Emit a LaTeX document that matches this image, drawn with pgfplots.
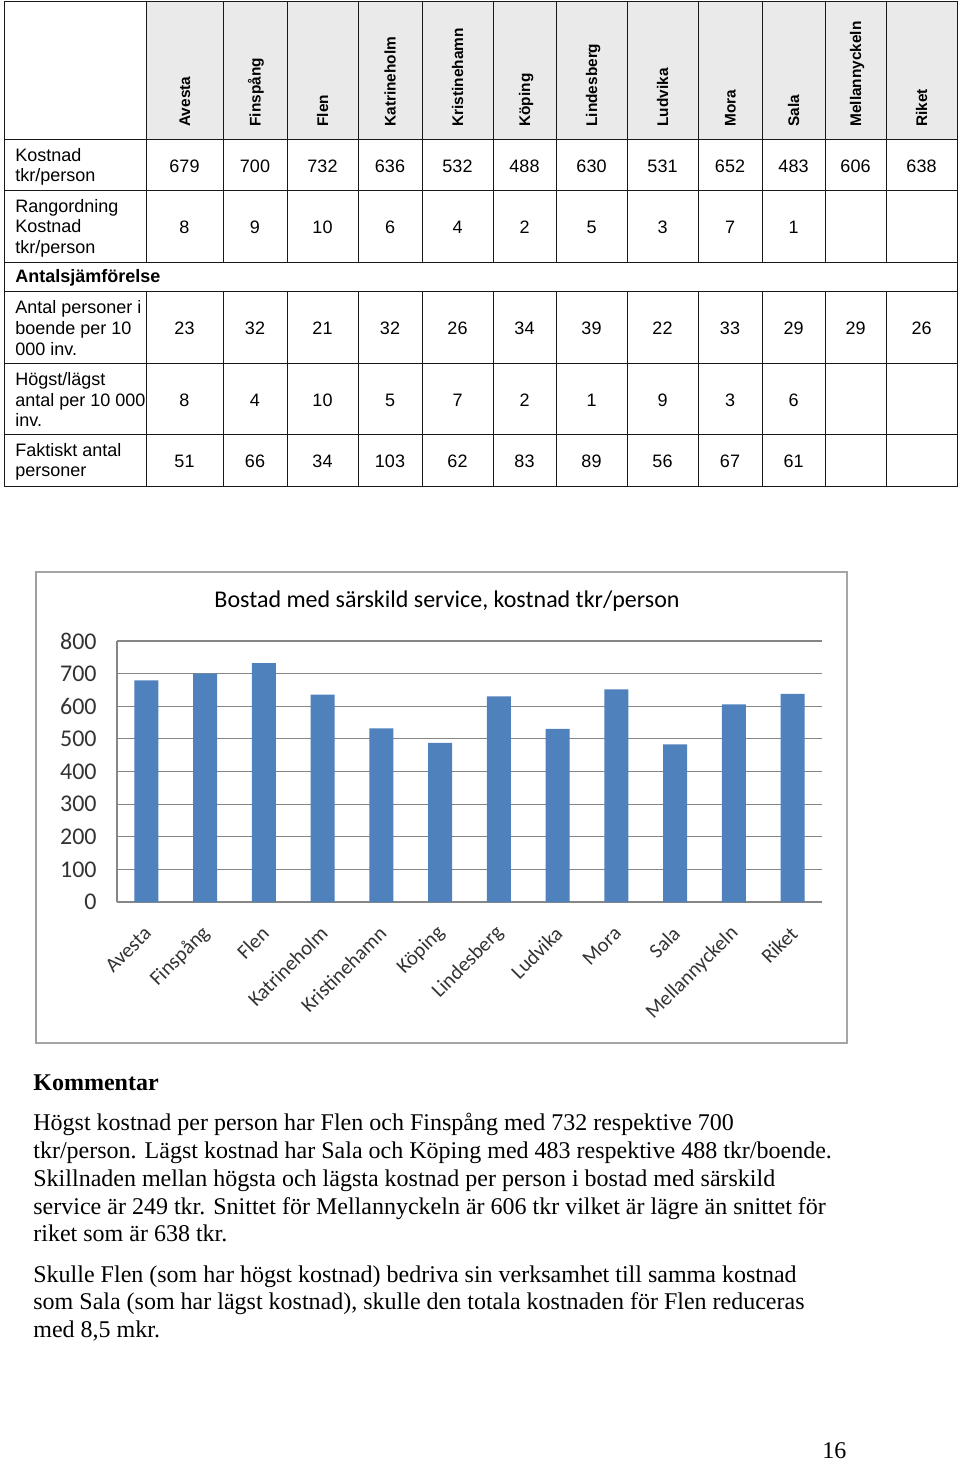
\documentclass[border=0pt]{standalone}
\usepackage{fontspec}
\setmainfont{Liberation Serif}
\newfontfamily\arial{Liberation Sans}
\newfontfamily\calibri{Carlito}
\usepackage{pgfplots}
\pgfplotsset{compat=1.18}
\definecolor{barblue}{RGB}{79,129,189}
\definecolor{gridgray}{RGB}{134,134,134}
\definecolor{headgray}{RGB}{234,234,234}
\definecolor{framegray}{RGB}{165,165,165}
\begin{document}
\begin{tikzpicture}
\begin{scope}[x=0.5pt,y=-0.5pt]
\path[use as bounding box,fill=white] (0,0) rectangle (960,1461);
% ---------- table ----------
\fill[headgray] (146,2) rectangle (957,139.5);
\draw[line width=0.5pt,black!90] (4,2) rectangle (957,486);
\foreach \y in {139.5,190.5,262,291.5,363,434.5} \draw[line width=0.5pt,black!90] (4,\y) -- (957,\y);
\foreach \x in {146,223,287,358,422,493,556,627,698,762,825,886} {
  \draw[line width=0.5pt,black!90] (\x,2) -- (\x,262);
  \draw[line width=0.5pt,black!90] (\x,291.5) -- (\x,486);}
\foreach \c/\n in {184.5/Avesta,255/Finspång,322.5/Flen,390/Katrineholm,457.5/Kristinehamn,524.5/Köping,591.5/Lindesberg,662.5/Ludvika,730/Mora,793.5/Sala,855.5/Mellannyckeln,921.5/Riket}
  \node[rotate=90,anchor=base west,inner sep=0pt,font={\arial\bfseries\fontsize{7.7pt}{9pt}\selectfont}] at (\c+5.5,127) {\n};
\tikzset{lab/.style={anchor=base west,inner sep=0pt,font={\arial\fontsize{9pt}{10pt}\selectfont}},
         num/.style={anchor=base,inner sep=0pt,font={\arial\fontsize{9pt}{10pt}\selectfont}}}
\node[lab] at (15,161.7) {Kostnad};
\node[lab] at (15,181.7) {tkr/person};
\node[lab] at (15,212.7) {Rangordning};
\node[lab] at (15,232.7) {Kostnad};
\node[lab] at (15,253.5) {tkr/person};
\node[lab,font={\arial\bfseries\fontsize{9pt}{10pt}\selectfont}] at (15,282.7) {Antalsjämförelse};
\node[lab] at (15,313) {Antal personer i};
\node[lab] at (15,334) {boende per 10};
\node[lab] at (15,355) {000 inv.};
\node[lab] at (15,385) {Högst/lägst};
\node[lab] at (15,406) {antal per 10 000};
\node[lab] at (15,426.7) {inv.};
\node[lab] at (15,456) {Faktiskt antal};
\node[lab] at (15,476.7) {personer};
\foreach \c/\v in {184.5/679,255/700,322.5/732,390/636,457.5/532,524.5/488,591.5/630,662.5/531,730/652,793.5/483,855.5/606,921.5/638}
  \node[num] at (\c,172) {\v};
\foreach \c/\v in {184.5/8,255/9,322.5/10,390/6,457.5/4,524.5/2,591.5/5,662.5/3,730/7,793.5/1}
  \node[num] at (\c,233.5) {\v};
\foreach \c/\v in {184.5/23,255/32,322.5/21,390/32,457.5/26,524.5/34,591.5/39,662.5/22,730/33,793.5/29,855.5/29,921.5/26}
  \node[num] at (\c,334) {\v};
\foreach \c/\v in {184.5/8,255/4,322.5/10,390/5,457.5/7,524.5/2,591.5/1,662.5/9,730/3,793.5/6}
  \node[num] at (\c,406) {\v};
\foreach \c/\v in {184.5/51,255/66,322.5/34,390/103,457.5/62,524.5/83,591.5/89,662.5/56,730/67,793.5/61}
  \node[num] at (\c,467) {\v};
% ---------- chart frame and title ----------
\draw[framegray,line width=0.9pt] (36,572) rectangle (847,1043);
\draw[gray!75,line width=1.2pt] (36,572) -- (36,1043);
\node[anchor=base,inner sep=0pt,font={\calibri\fontsize{12pt}{14pt}\selectfont}] at (447,607) {Bostad med särskild service, kostnad tkr/person};
% ---------- text ----------
\tikzset{body/.style={anchor=base west,inner sep=0pt,font={\fontsize{12pt}{14pt}\selectfont}}}
\node[body,font={\bfseries\fontsize{12pt}{14pt}\selectfont}] at (33,1090.7) {Kommentar};
\node[body] at (33,1130) {Högst kostnad per person har Flen och Finspång med 732 respektive 700};
\node[body] at (33,1158) {tkr/person. Lägst kostnad har Sala och Köping med 483 respektive 488 tkr/boende.};
\node[body] at (33,1186) {Skillnaden mellan högsta och lägsta kostnad per person i bostad med särskild};
\node[body] at (33,1214) {service är 249 tkr. Snittet för Mellannyckeln är 606 tkr vilket är lägre än snittet för};
\node[body] at (33,1241) {riket som är 638 tkr.};
\node[body] at (33,1282) {Skulle Flen (som har högst kostnad) bedriva sin verksamhet till samma kostnad};
\node[body] at (33,1309) {som Sala (som har lägst kostnad), skulle den totala kostnaden för Flen reduceras};
\node[body] at (33,1337) {med 8,5 mkr.};
\node[body] at (822,1458) {16};
\end{scope}
\begin{axis}[
  at={(58.5pt,-451pt)}, anchor=south west,
  scale only axis, width=352.5pt, height=130.5pt,
  xmin=-0.5, xmax=11.5, ymin=0, ymax=800,
  enlargelimits=false,
  xtick={0,1,2,3,4,5,6,7,8,9,10,11},
  xticklabels={Avesta,Finspång,Flen,Katrineholm,Kristinehamn,Köping,Lindesberg,Ludvika,Mora,Sala,Mellannyckeln,Riket},
  ytick={0,100,200,300,400,500,600,700,800},
  /pgf/number format/assume math mode=true,
  axis x line*=bottom, axis y line*=left,
  axis line style={gridgray,line width=0.6pt},
  major tick length=0pt,
  ymajorgrids, grid style={gridgray,line width=0.6pt},
  yticklabel style={font={\calibri\fontsize{12pt}{14pt}\selectfont},text=black!80,anchor=east,inner sep=0pt,xshift=-10pt},
  xticklabel style={font={\calibri\fontsize{10.3pt}{12pt}\selectfont},text=black!80,inner sep=0pt,xshift=0.8pt,yshift=-14pt,rotate=45,anchor=east},
  ybar, bar width=12pt,
]
\addplot[fill=barblue,draw=none] coordinates {(0,679) (1,700) (2,732) (3,636) (4,532) (5,488) (6,630) (7,531) (8,652) (9,483) (10,606) (11,638)};
\end{axis}
\end{tikzpicture}
\end{document}
